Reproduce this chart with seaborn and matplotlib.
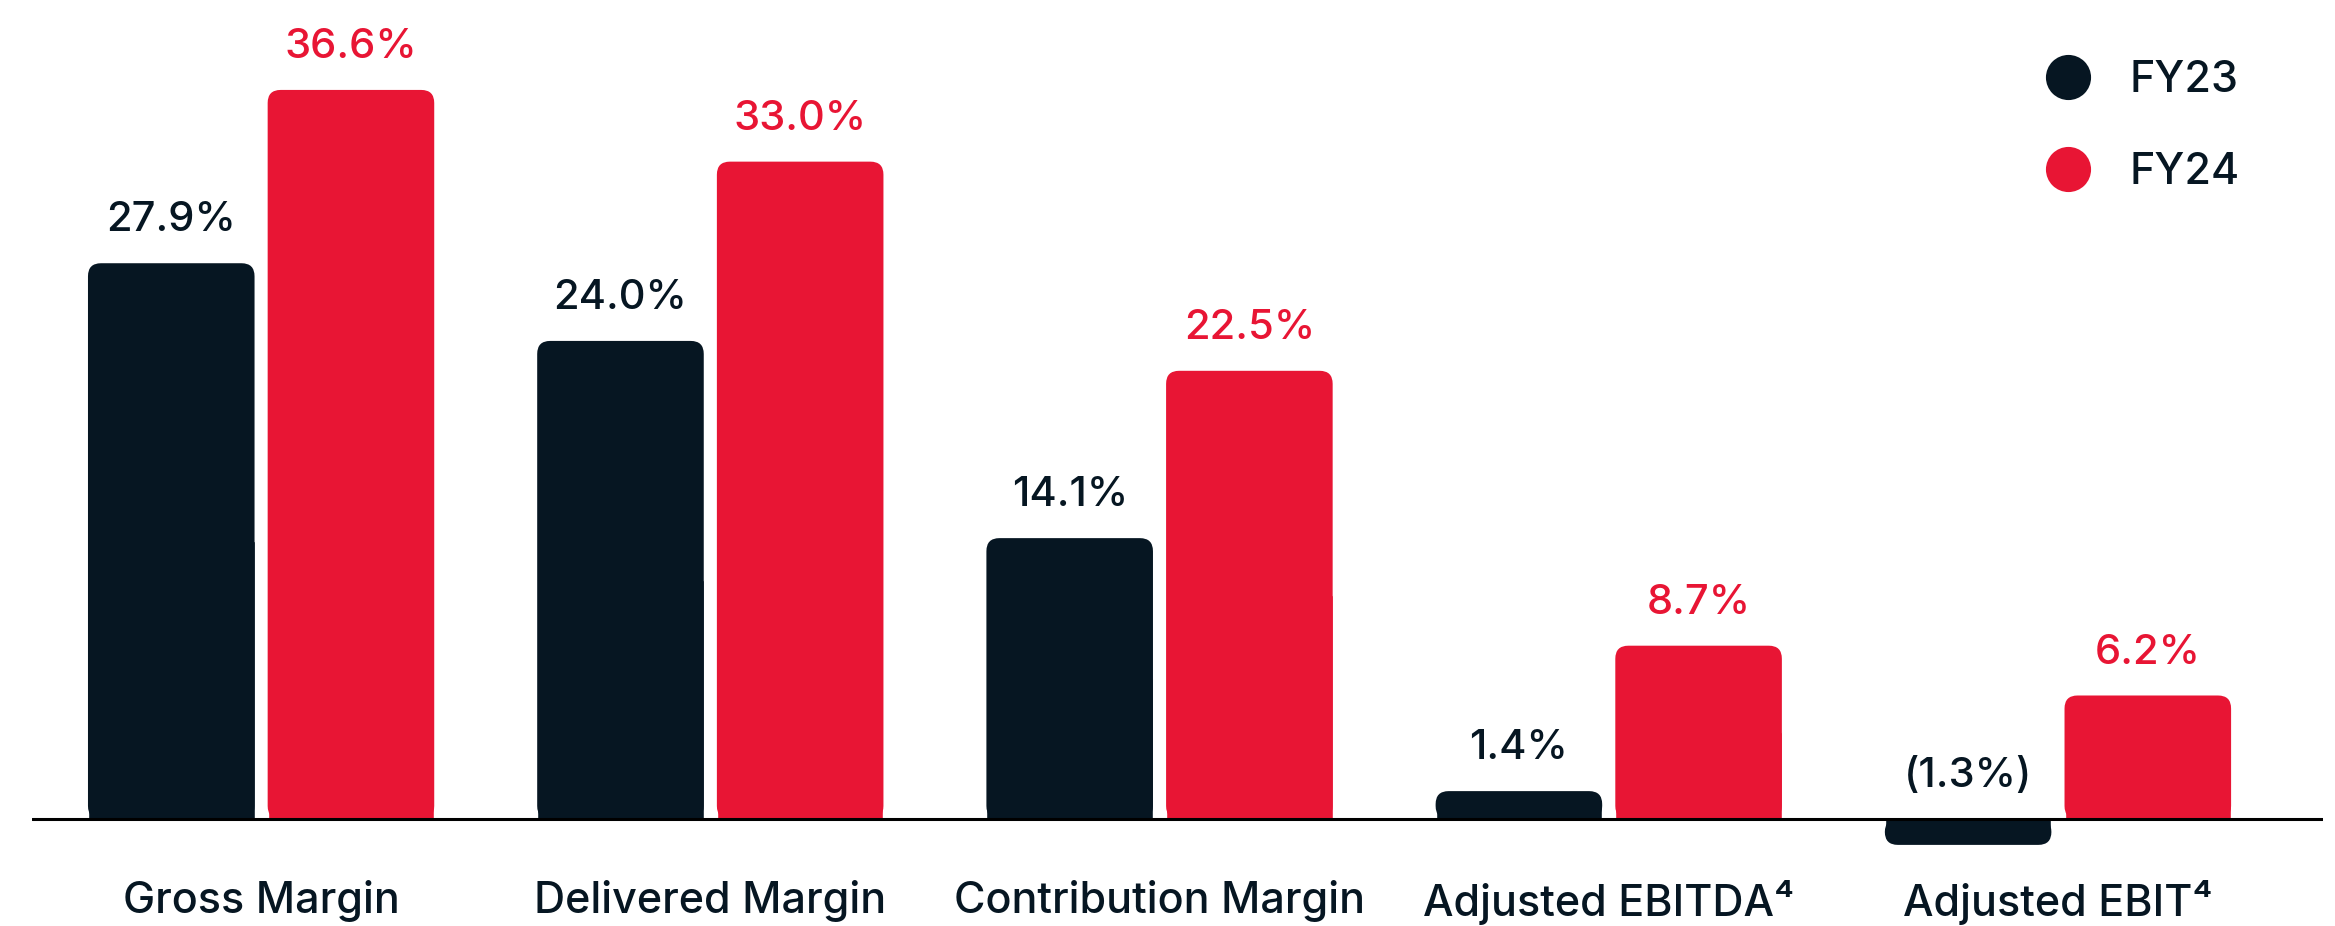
import pandas as pd
import numpy as np
import matplotlib.pyplot as plt
import seaborn as sns
from matplotlib.patches import FancyBboxPatch
from matplotlib.lines import Line2D

# --- data ---
metrics = ['Gross Margin', 'Delivered Margin', 'Contribution Margin',
           'Adjusted EBITDA\u2074', 'Adjusted EBIT\u2074']
years = ['FY23', 'FY24']
fy23 = [27.9, 24.0, 14.1, 1.4, -1.3]
fy24 = [36.6, 33.0, 22.5, 8.7, 6.2]

navy = '#061622'
red = '#E81534'

df = pd.DataFrame({
    'Metric': metrics * 2,
    'Year': [years[0]] * len(metrics) + [years[1]] * len(metrics),
    'Margin': fy23 + fy24,
})

def fmt(v):
    return f'({abs(v):.1f}%)' if v < 0 else f'{v:.1f}%'

# --- style ---
sns.set_style('white')
plt.rcParams['font.family'] = ['Inter', 'DejaVu Sans']
plt.rcParams['font.weight'] = 500

W, H, DPI = 2335, 926, 100
fig = plt.figure(figsize=(W / DPI, H / DPI), dpi=DPI)
# axes placed in pixel terms: baseline ~107px from bottom, ~19.9px per point
base_px, ypx = 107, 19.92
ymin, ymax = -2, (H - base_px) / ypx
bottom_px = base_px + ymin * ypx
ax = fig.add_axes([32 / W, bottom_px / H, 2291 / W, 1 - bottom_px / H])

sns.barplot(data=df, x='Metric', y='Margin', hue='Year', palette=[navy, red],
            width=0.8, gap=0.073, saturation=1, legend=False, ax=ax)

ax.set_xlim(-0.51, 4.59)
ax.set_ylim(ymin, ymax)
for s in ax.spines.values():
    s.set_visible(False)
ax.set_yticks([])
ax.set_xlabel('')
ax.set_ylabel('')
ax.tick_params(axis='x', length=0, pad=15, labelsize=31, labelcolor=navy)
ax.axhline(0, color='black', lw=2.2, zorder=5)

# rounded outer corners, square at the baseline
fig.canvas.draw()
p0 = ax.transData.transform((0, 0))
p1 = ax.transData.transform((1, 1))
aspect = (p1[0] - p0[0]) / (p1[1] - p0[1])
rsize = 13 / (p1[0] - p0[0])

for cont, vals, col in zip(ax.containers, [fy23, fy24], [navy, red]):
    for bar, v in zip(cont, vals):
        x, w, h = bar.get_x(), bar.get_width(), bar.get_height()
        lo = min(0, h)
        ax.add_patch(FancyBboxPatch((x, lo), w, abs(h),
                                    boxstyle=f'round,pad=0,rounding_size={rsize}',
                                    mutation_aspect=aspect, fc=col, ec='none',
                                    zorder=bar.get_zorder()))
        bar.set_height(h / 2)
        ax.annotate(fmt(v), (x + w / 2, max(h, 0)), xytext=(0, 23),
                    textcoords='offset points', ha='center', va='baseline',
                    fontsize=30, color=col)

handles = [Line2D([], [], ls='', marker='o', ms=32.5, mfc=c, mec='none')
           for c in [navy, red]]
ax.legend(handles, years, loc='upper left', bbox_to_anchor=(2046 / W, 1 - 60 / H),
          bbox_transform=fig.transFigure, frameon=False, fontsize=31,
          labelcolor=navy, borderpad=0, handlelength=1.0, handletextpad=0.95,
          labelspacing=1.18, borderaxespad=0)

plt.savefig('out.png', dpi=DPI)
